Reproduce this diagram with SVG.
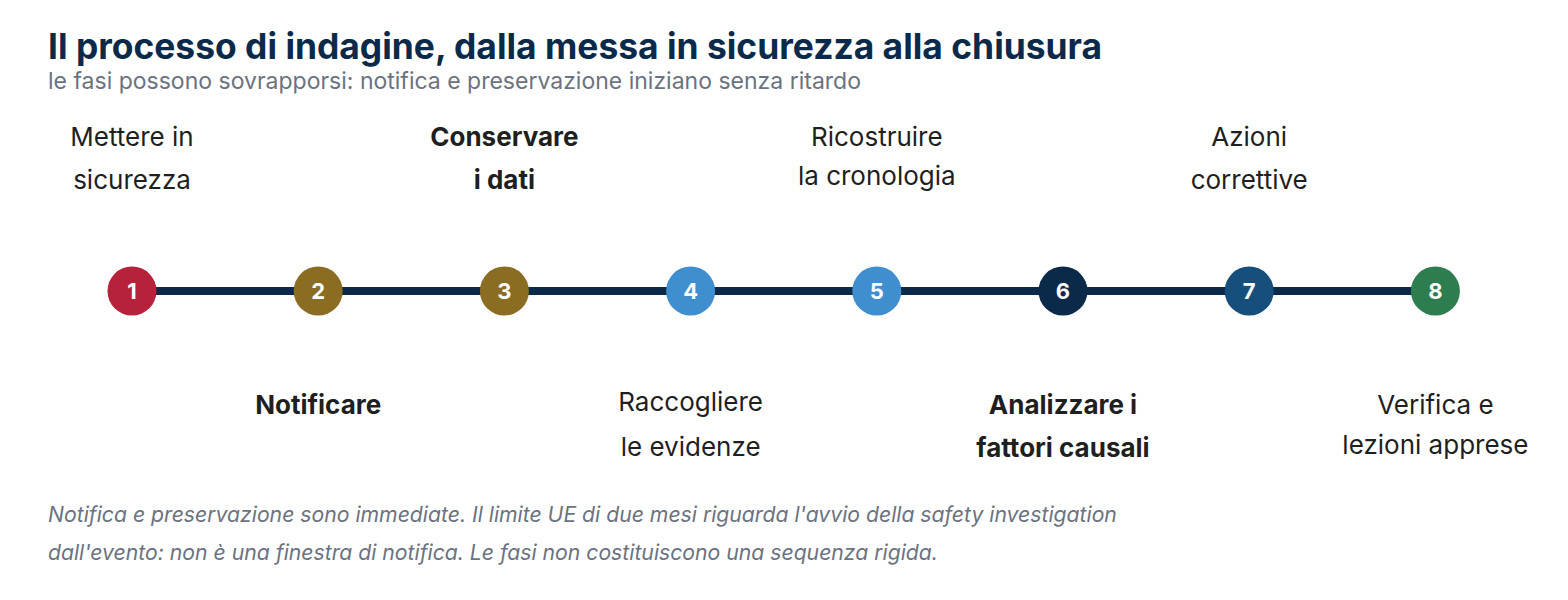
<svg xmlns="http://www.w3.org/2000/svg" width="1568" height="600" viewBox="0 0 1568 600">
<style>
.title{font-family:Inter,"Liberation Sans",sans-serif;font-size:35.4px;font-weight:700;fill:#0b2a4a}
.sub{font-family:Inter,"Liberation Sans",sans-serif;font-size:23px;fill:#6b7280}
.lbl{font-family:Inter,"Liberation Sans",sans-serif;font-size:26px;fill:#1f1f1f;text-anchor:middle}
.b{font-weight:700}
.num{font-family:Inter,"Liberation Sans",sans-serif;font-size:22px;font-weight:700;fill:#ffffff;text-anchor:middle}
.foot{font-family:Inter,"Liberation Sans",sans-serif;font-size:21.2px;font-style:italic;fill:#6b7280}
</style>
<rect width="1568" height="600" fill="#ffffff"/>
<text class="title" x="48" y="59">Il processo di indagine, dalla messa in sicurezza alla chiusura</text>
<text class="sub" x="48" y="89">le fasi possono sovrapporsi: notifica e preservazione iniziano senza ritardo</text>
<g id="connectors">
<line x1="132" y1="291" x2="1436" y2="291" stroke="#0b2a4a" stroke-width="8"/>
</g>
<g id="n1"><circle cx="132" cy="291" r="24.5" fill="#b5223a"/><text class="num" x="132" y="299">1</text>
<text class="lbl" x="132" y="146">Mettere in</text><text class="lbl" x="132" y="189">sicurezza</text></g>
<g id="n2"><circle cx="318.2" cy="291" r="24.5" fill="#8a6d22"/><text class="num" x="318.2" y="299">2</text>
<text class="lbl b" x="318.2" y="414">Notificare</text></g>
<g id="n3"><circle cx="504.4" cy="291" r="24.5" fill="#8a6d22"/><text class="num" x="504.4" y="299">3</text>
<text class="lbl b" x="504.4" y="146">Conservare</text><text class="lbl b" x="504.4" y="189">i dati</text></g>
<g id="n4"><circle cx="690.6" cy="291" r="24.5" fill="#3e8ed0"/><text class="num" x="690.6" y="299">4</text>
<text class="lbl" x="690.6" y="411">Raccogliere</text><text class="lbl" x="690.6" y="456">le evidenze</text></g>
<g id="n5"><circle cx="876.8" cy="291" r="24.5" fill="#3e8ed0"/><text class="num" x="876.8" y="299">5</text>
<text class="lbl" x="876.8" y="146">Ricostruire</text><text class="lbl" x="876.8" y="185">la cronologia</text></g>
<g id="n6"><circle cx="1063" cy="291" r="24.5" fill="#0b2a4a"/><text class="num" x="1063" y="299">6</text>
<text class="lbl b" x="1063" y="414">Analizzare i</text><text class="lbl b" x="1063" y="457">fattori causali</text></g>
<g id="n7"><circle cx="1249.2" cy="291" r="24.5" fill="#174f7c"/><text class="num" x="1249.2" y="299">7</text>
<text class="lbl" x="1249.2" y="146">Azioni</text><text class="lbl" x="1249.2" y="189">correttive</text></g>
<g id="n8"><circle cx="1435.4" cy="291" r="24.5" fill="#2e7d50"/><text class="num" x="1435.4" y="299">8</text>
<text class="lbl" x="1435.4" y="414">Verifica e</text><text class="lbl" x="1435.4" y="454">lezioni apprese</text></g>
<text class="foot" x="48" y="522">Notifica e preservazione sono immediate. Il limite UE di due mesi riguarda l'avvio della safety investigation</text>
<text class="foot" x="48" y="560">dall'evento: non è una finestra di notifica. Le fasi non costituiscono una sequenza rigida.</text>
</svg>
